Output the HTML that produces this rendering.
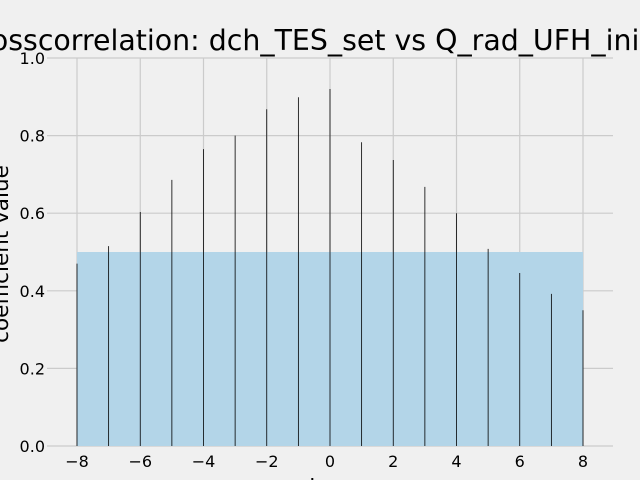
<!DOCTYPE html>
<html><head><meta charset="utf-8"><style>body{margin:0;background:#f0f0f0}svg{display:block}text{font-family:"DejaVu Sans","Liberation Sans",sans-serif}</style></head>
<body>
<svg id="chart" width="640" height="480" viewBox="0 0 640 480">
<rect width="640" height="480" fill="#f0f0f0"/>
<g id="grid"></g>
<g id="marks"></g>
<g id="ticks"></g>
<text x="-40" y="50" font-size="28.4" fill="#000">Crosscorrelation: dch_TES_set vs Q_rad_UFH_initial</text>
<text transform="translate(8,254) rotate(-90)" text-anchor="middle" font-size="21.5">coefficient value</text>
<text x="326" y="495" text-anchor="middle" font-size="22">lag</text>
</svg>
<script>
const lags=[-8,-7,-6,-5,-4,-3,-2,-1,0,1,2,3,4,5,6,7,8];
const coeffs=[0.47,0.515,0.603,0.686,0.765,0.80,0.868,0.899,0.92,0.783,0.737,0.668,0.60,0.508,0.446,0.392,0.35];
const xTicks=[-8,-6,-4,-2,0,2,4,6,8];
const yTicks=[0,0.2,0.4,0.6,0.8,1.0];
const band=[-8,8,0,0.5];
const NS="http://www.w3.org/2000/svg";
const x=v=>77+(v+8)*(583-77)/16;
const y=v=>446-v*388;
function mk(p,t,a){const e=document.createElementNS(NS,t);for(const k in a)e.setAttribute(k,a[k]);document.getElementById(p).appendChild(e);return e;}
for(const t of xTicks){
 const g=mk('grid','line',{x1:x(t),x2:x(t),y1:y(1),y2:y(0),stroke:'#cbcbcb','stroke-width':1.2});
 
 
 const l=mk('ticks','text',{x:x(t),y:467,'text-anchor':'middle','font-size':16});
 l.textContent=(t<0?'\u2212'+(-t):t);
 
 
}
for(const t of yTicks){
 const g=mk('grid','line',{x1:x(-8)-30,x2:x(8)+30,y1:y(t),y2:y(t),stroke:'#cbcbcb','stroke-width':1.2});
 
 
 const l=mk('ticks','text',{x:45,y:y(t)+6,'text-anchor':'end','font-size':16});
 l.textContent=t.toFixed(1);
 
 
}
const b=mk('marks','rect',{x:x(band[0]),y:y(band[3]),width:x(band[1])-x(band[0]),height:y(band[2])-y(band[3]),fill:'#b3d5e8'});


lags.forEach((l,i)=>{
 const s=mk('marks','line',{x1:x(l),x2:x(l),y1:y(0),y2:y(coeffs[i]),stroke:'#000','stroke-width':0.8});
 
 
});
</script>
</body></html>
